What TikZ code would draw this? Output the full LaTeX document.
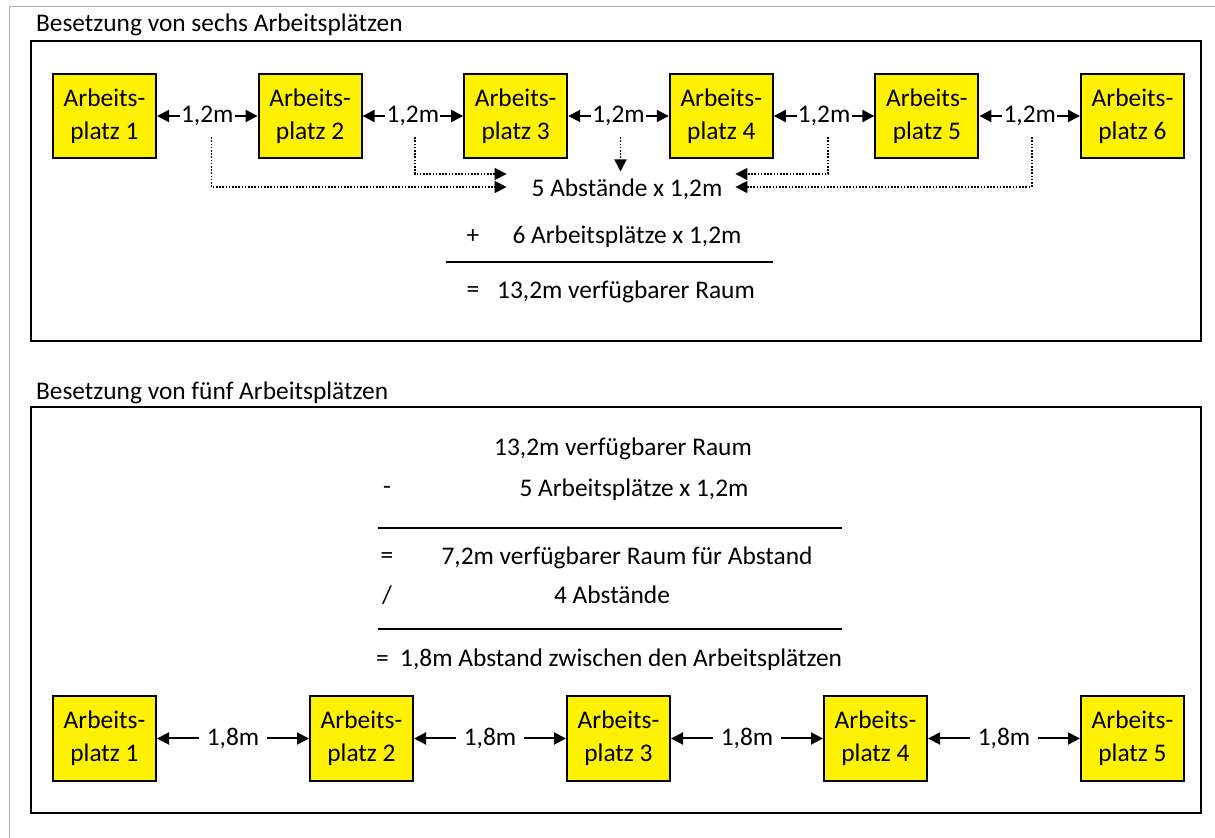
\documentclass[tikz,border=0pt]{standalone}
\usepackage{fontspec}
\setmainfont{Carlito}
\usetikzlibrary{calc,arrows.meta}

\begin{document}
\begin{tikzpicture}[x=0.5pt, y=-0.5pt, node distance=102.8pt,
  font=\fontsize{12.7}{16.5}\selectfont,
  block/.style={draw, fill=yellow, line width=1pt, minimum width=51.5pt, minimum height=42pt, align=center, inner sep=0pt},
  gap/.style={inner sep=0.5pt},
  wide/.style={inner sep=3.5pt},
  dist/.style={line width=1pt, -{Triangle[length=6pt, width=6pt]}},
  sumline/.style={line width=0.8pt, dash pattern=on 0.8pt off 0.8pt, -{Triangle[length=6pt, width=6pt]}},
  frame/.style={line width=1pt}]

  \useasboundingbox (0,0) rectangle (1215,838);
  % page edge
  \draw[gray!60, line width=0.5pt] (9,838) -- (9,7) -- (1215,7);

  % Six workplaces
  \node[anchor=west] (T1) at (29,25) {Besetzung von sechs Arbeitsplätzen};
  \draw[frame] (31,41) rectangle (1201,341);

  \node[block] (A1) at (104.5,116) {Arbeits-\\platz 1};
  \node[block, right of=A1] (A2) {Arbeits-\\platz 2};
  \node[block, right of=A2] (A3) {Arbeits-\\platz 3};
  \node[block, right of=A3] (A4) {Arbeits-\\platz 4};
  \node[block, right of=A4] (A5) {Arbeits-\\platz 5};
  \node[block, right of=A5] (A6) {Arbeits-\\platz 6};

  % gaps
  \node[gap, right of=A1, node distance=51.4pt] (D1) {1,2m};
  \node[gap, right of=A2, node distance=51.4pt] (D2) {1,2m};
  \node[gap, right of=A3, node distance=51.4pt] (D3) {1,2m};
  \node[gap, right of=A4, node distance=51.4pt] (D4) {1,2m};
  \node[gap, right of=A5, node distance=51.4pt] (D5) {1,2m};

  \draw[dist] (D1.west) -- (A1.east);
  \draw[dist] (D1.east) -- (A2.west);
  \draw[dist] (D2.west) -- (A2.east);
  \draw[dist] (D2.east) -- (A3.west);
  \draw[dist] (D3.west) -- (A3.east);
  \draw[dist] (D3.east) -- (A4.west);
  \draw[dist] (D4.west) -- (A4.east);
  \draw[dist] (D4.east) -- (A5.west);
  \draw[dist] (D5.west) -- (A5.east);
  \draw[dist] (D5.east) -- (A6.west);

  % sum
  \node (S1) at (627,189) {5 Abstände x 1,2m};
  \node (P1) at (473,237) {+};
  \node (S2) at (627,237) {6 Arbeitsplätze x 1,2m};
  \draw[frame] (446,262) -- (773,262);
  \node (E1) at (473,292) {=};
  \node (S3) at (626,292) {13,2m verfügbarer Raum};

  \draw[sumline, shorten <=5pt] ([xshift=2pt]D1.south) |- ($(S1.west)+(-18,-2)$);
  \draw[sumline, shorten <=5pt] ([xshift=1pt]D2.south) |- ($(S1.west)+(-18,-15)$);
  \draw[sumline, shorten <=5pt] ([xshift=1pt]D3.south) -- ([xshift=1pt]D3.south |- S1.north);
  \draw[sumline, shorten <=5pt] ([xshift=2pt]D4.south) |- ($(S1.east)+(6,-15)$);
  \draw[sumline, shorten <=5pt] ([xshift=1pt]D5.south) |- ($(S1.east)+(6,-2)$);

  % Five workplaces
  \node[anchor=west] (T2) at (29,393) {Besetzung von fünf Arbeitsplätzen};
  \draw[frame] (31,407) rectangle (1201,813);

  \node (R1) at (623,449) {13,2m verfügbarer Raum};
  \node (M1) at (387,490) {-};
  \node (R2) at (634,490) {5 Arbeitsplätze x 1,2m};
  \draw[frame] (378,528) -- (842,528);
  \node (E2) at (387,558) {=};
  \node (R3) at (627,558) {7,2m verfügbarer Raum für Abstand};
  \node (V1) at (387,595) {/};
  \node (R4) at (612,595) {4 Abstände};
  \draw[frame] (378,629) -- (842,629);
  \node[anchor=west] (R5) at (369,660) {=\ \ 1,8m Abstand zwischen den Arbeitsplätzen};

  \node[block] (B1) at (104.5,738.5) {Arbeits-\\platz 1};
  \node[block, right of=B1, node distance=128.5pt] (B2) {Arbeits-\\platz 2};
  \node[block, right of=B2, node distance=128.5pt] (B3) {Arbeits-\\platz 3};
  \node[block, right of=B3, node distance=128.5pt] (B4) {Arbeits-\\platz 4};
  \node[block, right of=B4, node distance=128.5pt] (B5) {Arbeits-\\platz 5};

  \node[wide, right of=B1, node distance=64.25pt] (L1) {1,8m};
  \node[wide, right of=B2, node distance=64.25pt] (L2) {1,8m};
  \node[wide, right of=B3, node distance=64.25pt] (L3) {1,8m};
  \node[wide, right of=B4, node distance=64.25pt] (L4) {1,8m};

  \draw[dist] (L1.west) -- (B1.east);
  \draw[dist] (L1.east) -- (B2.west);
  \draw[dist] (L2.west) -- (B2.east);
  \draw[dist] (L2.east) -- (B3.west);
  \draw[dist] (L3.west) -- (B3.east);
  \draw[dist] (L3.east) -- (B4.west);
  \draw[dist] (L4.west) -- (B4.east);
  \draw[dist] (L4.east) -- (B5.west);

\end{tikzpicture}
\end{document}
